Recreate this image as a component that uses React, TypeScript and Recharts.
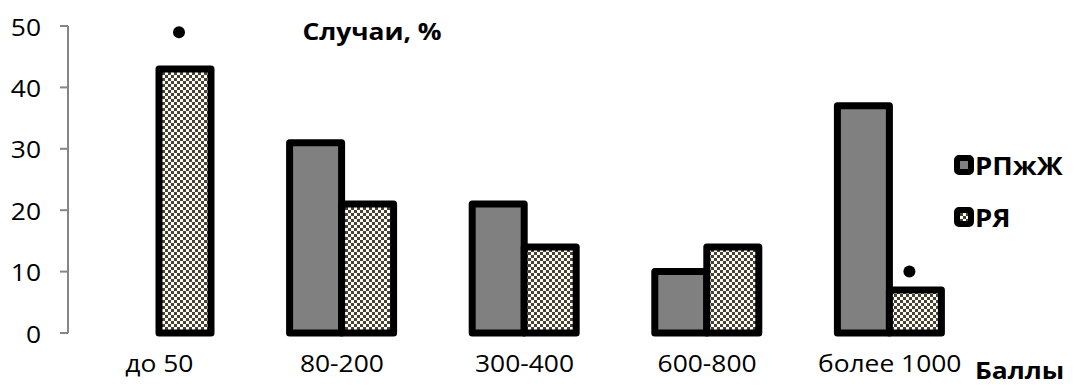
import { BarChart, Bar, XAxis, YAxis, Legend, LabelList, Customized } from "recharts";

const categories = ["до 50", "80-200", "300-400", "600-800", "более 1000"];
const rpzhzh = [0, 31, 21, 10, 37];
const rya = [43, 21, 14, 14, 7];
// significance dots above the РЯ bars
const marks: (number | null)[] = [49, null, null, null, 10];
const yTicks = [0, 10, 20, 30, 40, 50];
const boundaryTicks = [0, 1, 2, 3, 4, 5];

const data = categories.map((name, i) => ({
  name,
  pos: i + 0.5,
  rpzhzh: rpzhzh[i],
  rya: rya[i],
  mark: marks[i],
}));

const FONT = "'Open Sans', sans-serif";
const STRETCH = 1.1;
const AXIS = "#868686";

type WideTextProps = {
  x: number;
  y: number;
  anchor?: "start" | "middle" | "end";
  size?: number;
  bold?: boolean;
  children: React.ReactNode;
};

// the original font is a little wider than anything installed, so stretch it
const WideText = ({ x, y, anchor = "middle", size = 24, bold = false, children }: WideTextProps) => (
  <text
    transform={`translate(${x} ${y}) scale(${STRETCH} 1)`}
    textAnchor={anchor}
    dominantBaseline="central"
    fontSize={size}
    fontWeight={bold ? "bold" : "normal"}
    fontFamily={FONT}
    fill="#000"
  >
    {children}
  </text>
);

const YTick = ({ x, y, payload }: any) => (
  <WideText x={x} y={y} anchor="end">
    {payload.value}
  </WideText>
);

const XTick = ({ x, y, payload }: any) => (
  <WideText x={x} y={y} anchor="middle">
    {payload.value}
  </WideText>
);

const MarkDot = (props: any) => {
  const { x, y, width, height, value, index } = props;
  if (value == null || !rya[index]) return null;
  const base = Number(y) + Number(height);
  const perUnit = Number(height) / rya[index];
  return <circle cx={Number(x) + Number(width) / 2 - 6} cy={base - value * perUnit} r={6} fill="#000" />;
};

const Titles = () => (
  <g>
    <WideText x={372} y={30} bold>
      Случаи, %
    </WideText>
    <WideText x={975} y={369} anchor="start" bold>
      Баллы
    </WideText>
  </g>
);

const Swatch = ({ fill }: { fill: string }) => (
  <svg width={20} height={20} style={{ display: "block" }}>
    <rect x={3} y={3} width={14} height={14} rx={2} fill={fill} stroke="#000" strokeWidth={6} />
  </svg>
);

const LegendBox = () => (
  <div style={{ fontFamily: FONT, fontWeight: "bold", fontSize: 25, color: "#000" }}>
    {[
      { label: "РПжЖ", fill: "#808080" },
      { label: "РЯ", fill: "url(#checker)" },
    ].map((item, i) => (
      <div
        key={item.label}
        style={{ display: "flex", alignItems: "center", height: 30, marginBottom: i === 0 ? 22 : 0 }}
      >
        <Swatch fill={item.fill} />
        <span style={{ display: "inline-block", transform: `scaleX(${STRETCH})`, transformOrigin: "left center", marginLeft: 1 }}>
          {item.label}
        </span>
      </div>
    ))}
  </div>
);

export default function App() {
  return (
    <div style={{ position: "absolute", left: 0, top: 0, background: "#fff" }}>
      <BarChart
        width={1073}
        height={385}
        data={data}
        margin={{ top: 26, right: 92, left: 0, bottom: 0 }}
        barSize={52}
        barGap={0}
      >
        <defs>
          <pattern id="checker" width={6} height={6} patternUnits="userSpaceOnUse">
            <rect width={6} height={6} fill="#fff" />
            <rect width={3} height={3} fill="#4a4330" />
            <rect x={3} y={3} width={3} height={3} fill="#4a4330" />
          </pattern>
        </defs>
        <XAxis
          xAxisId="bounds"
          type="number"
          dataKey="pos"
          domain={[0, 5]}
          ticks={boundaryTicks}
          height={0}
          tick={false}
          tickSize={8}
          axisLine={{ stroke: AXIS, strokeWidth: 2 }}
          tickLine={{ stroke: AXIS, strokeWidth: 2 }}
          allowDataOverflow
        />
        <XAxis
          xAxisId="cat"
          dataKey="name"
          height={52}
          axisLine={false}
          tickLine={false}
          tickSize={0}
          tickMargin={29}
          tick={<XTick />}
          interval={0}
        />
        <YAxis
          width={68}
          domain={[0, 50]}
          ticks={yTicks}
          tickSize={8}
          tickMargin={19}
          axisLine={{ stroke: AXIS, strokeWidth: 2 }}
          tickLine={{ stroke: AXIS, strokeWidth: 2 }}
          tick={<YTick />}
          interval={0}
        />
        <Bar
          xAxisId="cat"
          dataKey="rpzhzh"
          name="РПжЖ"
          fill="#808080"
          stroke="#000"
          strokeWidth={7}
          strokeLinejoin="round"
          isAnimationActive={false}
        />
        <Bar
          xAxisId="cat"
          dataKey="rya"
          name="РЯ"
          fill="url(#checker)"
          stroke="#000"
          strokeWidth={7}
          strokeLinejoin="round"
          isAnimationActive={false}
        >
          <LabelList dataKey="mark" content={<MarkDot />} />
        </Bar>
        <Legend
          layout="horizontal"
          verticalAlign="middle"
          align="center"
          content={<LegendBox />}
          wrapperStyle={{ left: 954, top: 150, width: 119 }}
        />
        <Customized component={<Titles />} />
      </BarChart>
    </div>
  );
}
